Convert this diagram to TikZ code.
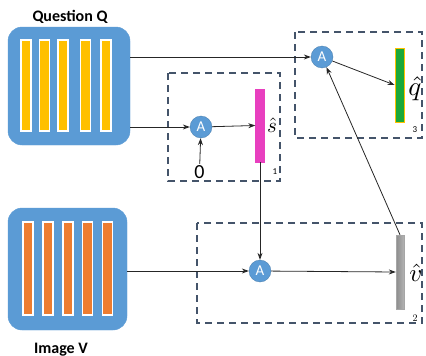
\documentclass[tikz,border=0pt]{standalone}
\usepackage{fontspec}
\usepackage{graphicx}
\newfontfamily\labelfont{Carlito}
\usetikzlibrary{arrows.meta}
\definecolor{boxblue}{HTML}{5B9BD5}
\definecolor{qbar}{HTML}{FFC000}
\definecolor{vbar}{HTML}{ED7D31}
\definecolor{sbar}{HTML}{E83FBF}
\definecolor{gbar}{HTML}{1AA83A}
\definecolor{dashc}{HTML}{44546A}
\tikzset{
  inputbox/.style={draw=boxblue, fill=boxblue, rounded corners=14pt, minimum width=#1, minimum height=120pt, inner sep=0pt},
  featbar/.style={draw=white, line width=1.2pt, fill=#1, minimum width=10pt, inner sep=0pt},
  attn/.style={circle, fill=boxblue, draw=boxblue!80!black, line width=0.3pt, minimum size=22pt, inner sep=0pt, text=white, font=\labelfont\fontsize{15}{15}\selectfont},
  outbar/.style={fill=#1, draw=#1, minimum width=9pt, inner sep=0pt},
  region/.style={draw=dashc, line width=1.3pt, dash pattern=on 7pt off 5pt},
  conn/.style={draw=black!85, line width=0.8pt},
  arr/.style={conn, -{Stealth[length=7pt,width=5pt]}},
  title/.style={anchor=base, inner sep=0pt, font=\labelfont\bfseries\fontsize{16}{16}\selectfont},
  idx/.style={inner sep=0pt, font=\labelfont\fontsize{9}{9}\selectfont},
  veclabel/.style={inner sep=0pt},
}
\begin{document}
\begin{tikzpicture}[x=1pt,y=-1pt]
\useasboundingbox (0,0) rectangle (426,356);

% dashed attention regions
\draw[region] (168,73) rectangle (280,181);
\draw[region] (295,32) rectangle (422,138);
\draw[region] (197,223) rectangle (422,323);

% question input
\node[title] (qt) at (70,21) {Question Q};
\node[inputbox=122pt, minimum height=118pt] (Q) at (69,86) {};
\foreach \x [count=\i] in {26,44.5,63,85.5,106}
  \node[featbar=qbar, minimum height=91pt] (q\i) at (\x,85.5) {};

% image input
\node[title] (vt) at (61,353) {Image V};
\node[inputbox=119pt, minimum height=122pt] (V) at (67.5,269) {};
\foreach \x [count=\i] in {28,48,68,87.5,107.5}
  \node[featbar=vbar, minimum height=93pt] (v\i) at (\x,268.5) {};

% attention units
\node[attn] (A1) at (201,127) {A};
\node[attn] (A2) at (260,271) {A};
\node[attn] (A3) at (322,57) {A};
\node[anchor=base, inner sep=1pt, font=\labelfont\fontsize{20}{20}\selectfont] (zero) at (199.5,178) {0};

% summary vectors
\node[outbar=sbar, minimum height=73pt] (s) at (260,125.5) {};
\node[outbar=gbar, draw=qbar, line width=0.8pt, minimum height=74pt] (q) at (399.5,85) {};
\node[shading=axis, left color=black!45, right color=black!30, draw=black!35, minimum width=8pt, minimum height=74pt, inner sep=0pt] (v) at (400,272) {};

\node[veclabel] (sl) at (272,125) {\scalebox{2.1}{$\hat{s}$}};
\node[veclabel] (ql) at (415,89) {\scalebox{2.7}{$\hat{q}$}};
\node[veclabel] (vl) at (416,273) {\scalebox{2.5}{$\hat{v}$}};
\node[idx] (n1) at (275,172) {1};
\node[idx] (n3) at (415,130) {3};
\node[inner sep=0pt, font=\fontsize{10}{10}\selectfont] (n2) at (415,318) {2};

% connectors
\draw[arr] (Q.east |- A3) -- (A3);
\draw[arr] (Q.east |- A1) -- (A1);
\draw[arr] (zero) -- (A1);
\draw[arr] (A1) -- (s.west);
\draw[arr] (s.south) -- (A2);
\draw[arr] (V.east |- A2) -- (A2);
\draw[arr] (A2) -- (v.west);
\draw[arr] (A3) -- (q.west);
\draw[arr] (v.north) -- (A3);
\end{tikzpicture}
\end{document}
